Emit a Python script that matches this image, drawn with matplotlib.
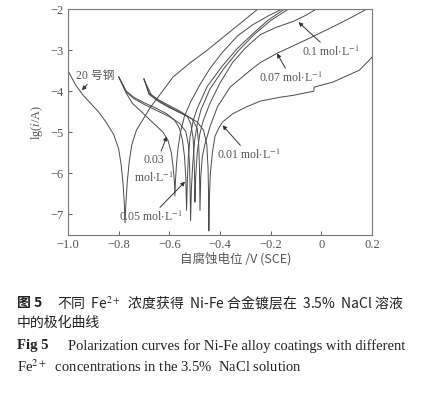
import matplotlib
matplotlib.use("Agg")
import matplotlib.pyplot as plt

# potential (V vs SCE) and lg(i/A), one pair per curve
steel_E = [-1.0, -0.97, -0.94, -0.91, -0.88, -0.85, -0.82, -0.80, -0.79, -0.782, -0.777, -0.775,
           -0.772, -0.766, -0.758, -0.748, -0.73, -0.70, -0.676, -0.645, -0.586, -0.52, -0.45,
           -0.39, -0.32, -0.25]
steel_lgi = [-3.5, -3.85, -4.1, -4.3, -4.5, -4.75, -5.05, -5.4, -5.8, -6.3, -6.8, -7.2,
             -6.8, -6.2, -5.7, -5.3, -4.95, -4.65, -4.4, -4.15, -3.66, -3.32, -3.0,
             -2.7, -2.35, -2.0]

c003_E = [-0.80, -0.77, -0.745, -0.71, -0.68, -0.65, -0.625, -0.605, -0.592, -0.585, -0.58, -0.578,
          -0.576, -0.572, -0.566, -0.556, -0.54, -0.515, -0.48, -0.44, -0.39, -0.33, -0.27, -0.21, -0.155]
c003_lgi = [-3.65, -4.05, -4.3, -4.5, -4.68, -4.85, -5.0, -5.2, -5.5, -5.85, -6.2, -6.55,
            -6.2, -5.8, -5.4, -5.0, -4.6, -4.25, -3.85, -3.45, -3.05, -2.65, -2.38, -2.17, -2.0]

c005_E = [-0.80, -0.77, -0.74, -0.70, -0.65, -0.61, -0.58, -0.56, -0.548, -0.54, -0.535, -0.532,
          -0.529, -0.525, -0.518, -0.505, -0.49, -0.45, -0.39, -0.33, -0.27, -0.21, -0.145]
c005_lgi = [-3.65, -4.0, -4.15, -4.28, -4.42, -4.55, -4.7, -4.9, -5.2, -5.6, -6.1, -6.9,
            -6.2, -5.6, -5.1, -4.7, -4.42, -3.88, -3.38, -2.95, -2.6, -2.27, -2.0]

cx_E = [-0.80, -0.77, -0.74, -0.70, -0.65, -0.60, -0.56, -0.535, -0.525, -0.52, -0.518, -0.516,
        -0.513, -0.508, -0.50, -0.49, -0.475, -0.44, -0.385, -0.325, -0.265, -0.20, -0.13]
cx_lgi = [-3.65, -4.02, -4.18, -4.32, -4.47, -4.62, -4.78, -4.98, -5.3, -5.8, -6.4, -7.15,
          -6.4, -5.8, -5.2, -4.8, -4.45, -3.95, -3.45, -3.0, -2.62, -2.28, -2.0]

c01_E = [-0.70, -0.68, -0.64, -0.60, -0.56, -0.53, -0.515, -0.506, -0.502, -0.50, -0.499,
         -0.496, -0.49, -0.48, -0.468, -0.44, -0.40, -0.35, -0.30, -0.24, -0.18, -0.11, -0.06, -0.02]
c01_lgi = [-3.7, -4.05, -4.22, -4.35, -4.48, -4.6, -4.8, -5.15, -5.7, -6.2, -6.7,
           -6.1, -5.5, -5.05, -4.75, -4.3, -3.8, -3.3, -2.95, -2.62, -2.45, -2.3, -2.15, -2.0]

c007_E = [-0.70, -0.68, -0.64, -0.60, -0.55, -0.51, -0.49, -0.484, -0.481, -0.479,
          -0.476, -0.47, -0.46, -0.448, -0.44, -0.41, -0.36, -0.28, -0.24, -0.175, -0.05, 0.05, 0.12, 0.18]
c007_lgi = [-3.7, -4.08, -4.26, -4.4, -4.55, -4.68, -4.9, -5.3, -5.9, -6.9,
            -6.1, -5.6, -5.3, -5.05, -4.87, -4.38, -3.9, -3.49, -3.3, -3.08, -2.72, -2.42, -2.2, -2.0]

c001_E = [-0.70, -0.67, -0.63, -0.58, -0.53, -0.49, -0.465, -0.452, -0.447, -0.445, -0.444,
          -0.442, -0.438, -0.43, -0.42, -0.405, -0.39, -0.35, -0.295, -0.24, -0.165, -0.11, -0.03,
          -0.028, 0.045, 0.11, 0.15, 0.19, 0.2]
c001_lgi = [-3.72, -4.1, -4.28, -4.45, -4.6, -4.75, -4.95, -5.3, -5.9, -6.6, -7.4,
            -6.6, -6.0, -5.5, -5.1, -4.9, -4.75, -4.55, -4.38, -4.24, -4.15, -4.1, -4.0,
            -3.9, -3.78, -3.6, -3.49, -3.24, -3.17]

curves = [(steel_E, steel_lgi), (c003_E, c003_lgi), (c005_E, c005_lgi), (cx_E, cx_lgi),
          (c01_E, c01_lgi), (c007_E, c007_lgi), (c001_E, c001_lgi)]

x_ticks = [-1.0, -0.8, -0.6, -0.4, -0.2, 0, 0.2]
x_ticklabels = ["\u22121.0", "\u22120.8", "\u22120.6", "\u22120.4", "\u22120.2", "0", "0.2"]
y_ticks = [-7, -6, -5, -4, -3, -2]
y_ticklabels = ["\u22127", "\u22126", "\u22125", "\u22124", "\u22123", "\u22122"]

line_col = "#4a4a4a"
text_col = "#555555"
serif = ["Liberation Serif", "Noto Sans CJK SC"]
cjk = ["Noto Sans CJK SC", "Liberation Serif"]

plt.rcParams["mathtext.fontset"] = "stix"

fig = plt.figure(figsize=(4.25, 3.96), dpi=100)
ax = fig.add_axes([68 / 425, 1 - 235 / 396, 304 / 425, 226 / 396])

for E, lgi in curves:
    ax.plot(E, lgi, color=line_col, lw=0.7)

ax.set_xlim(-1.0, 0.2)
ax.set_ylim(-7.5, -2)
ax.set_xticks(x_ticks)
ax.set_xticklabels(x_ticklabels, family=serif, fontsize=9, color=text_col)
ax.set_yticks(y_ticks)
ax.set_yticklabels(y_ticklabels, family=serif, fontsize=9, color=text_col)
ax.tick_params(direction="in", length=3, width=0.6, color=line_col, pad=3)
for s in ax.spines.values():
    s.set_color("#777777")
    s.set_linewidth(0.8)

ax.set_xlabel("自腐蚀电位 /V (SCE)", family=cjk, fontsize=9, color=text_col, labelpad=2)
ax.xaxis.set_label_coords(0.55, -0.075)
ax.set_ylabel(r"lg($i$/A)", family=serif, fontsize=9, color=text_col, labelpad=4)

arrow = dict(arrowstyle="-|>", lw=0.7, color="#333333", mutation_scale=6, shrinkA=0, shrinkB=0)
conc = r"mol$\cdot$L$^{-1}$"

ax.annotate("20 号钢", xy=(-0.945, -3.98), xytext=(-0.97, -3.62), family=serif,
            fontsize=8.5, color=text_col, ha="left", va="center", arrowprops=arrow)
ax.annotate("0.03\n" + conc, xy=(-0.61, -5.1), xytext=(-0.66, -5.9), family=serif,
            fontsize=8.5, color=text_col, ha="center", va="center", linespacing=1.4,
            arrowprops=arrow)
ax.annotate("0.05 " + conc, xy=(-0.538, -6.2), xytext=(-0.80, -7.07), family=serif,
            fontsize=8.5, color=text_col, ha="left", va="center", arrowprops=arrow)
ax.annotate("0.01 " + conc, xy=(-0.39, -4.83), xytext=(-0.41, -5.56), family=serif,
            fontsize=8.5, color=text_col, ha="left", va="center", arrowprops=arrow)
ax.annotate("0.07 " + conc, xy=(-0.175, -3.08), xytext=(-0.245, -3.68), family=serif,
            fontsize=8.5, color=text_col, ha="left", va="center", arrowprops=arrow)
ax.annotate("0.1 " + conc, xy=(-0.09, -2.32), xytext=(-0.075, -3.05), family=serif,
            fontsize=8.5, color=text_col, ha="left", va="center", arrowprops=arrow)

# caption under the chart
cap_col = "#222222"
fig.text(17 / 425, 1 - 303 / 396, "图 5", family=cjk, fontsize=10, weight="bold",
         color=cap_col, va="center")
fig.text(57 / 425, 1 - 303 / 396,
         "不同  Fe$^{2+}$  浓度获得  Ni-Fe 合金镀层在  3.5%  NaCl 溶液",
         family=cjk, fontsize=10, color=cap_col, va="center")
fig.text(17 / 425, 1 - 323 / 396, "中的极化曲线", family=cjk, fontsize=10,
         color=cap_col, va="center")
fig.text(17 / 425, 1 - 346 / 396, "Fig 5", family=serif, fontsize=10.5, weight="bold",
         color=cap_col, va="center")
fig.text(68 / 425, 1 - 346 / 396,
         "Polarization curves for Ni-Fe alloy coatings with different",
         family=serif, fontsize=10.5, color=cap_col, va="center")
fig.text(17 / 425, 1 - 367 / 396, "Fe$^{2+}$  concentrations in the 3.5%  NaCl solution",
         family=serif, fontsize=10.5, color=cap_col, va="center")

fig.savefig("out.png", dpi=100)
